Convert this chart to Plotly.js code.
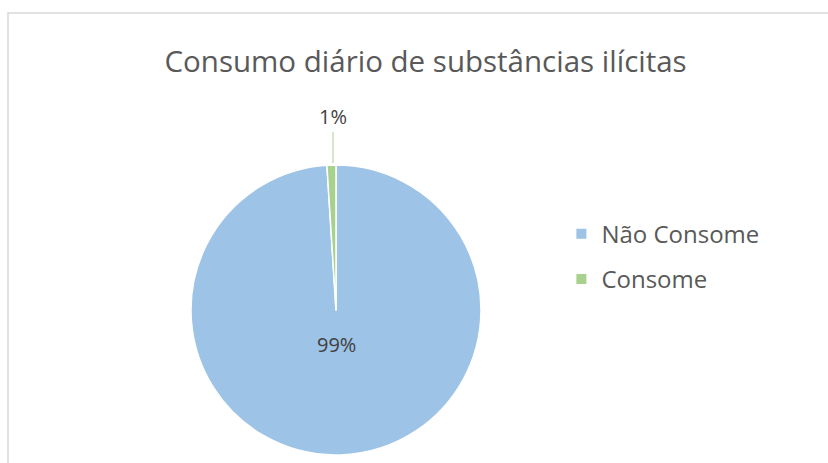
<!DOCTYPE html>
<html><head><meta charset="utf-8">
<script src="https://cdn.plot.ly/plotly-3.0.1.min.js"></script>
<style>html,body{margin:0;padding:0;background:#fff}#chart{width:828px;height:463px}</style>
</head><body><div id="chart"></div>
<script>
const titleText = 'Consumo diário de substâncias ilícitas';
const categories = ['Não Consome', 'Consome'];
const values = [99, 1];
const colors = ['#9DC3E6', '#A9D18E'];

const total = values.reduce((a, b) => a + b, 0);
const pct = values.map(v => Math.round(100 * v / total) + '%');
const FONT = 'Open Sans, sans-serif';

const pie = {
  type: 'pie',
  labels: categories,
  values: values,
  sort: false,
  direction: 'clockwise',
  rotation: 0,
  marker: {colors: colors, line: {color: '#ffffff', width: 1.5}},
  textinfo: 'none',
  hoverinfo: 'label+percent',
  showlegend: false,
  domain: {x: [0.2307, 0.5809], y: [0.0173, 0.6436]}
};

// legend entries, one per category
const legendTraces = categories.map((c, i) => ({
  type: 'scatter', mode: 'markers', x: [null], y: [null],
  name: c, legendgroup: 'g' + i,
  marker: {symbol: 'square', size: 10, color: colors[i]},
  showlegend: true
}));

const layout = {
  width: 828, height: 463,
  margin: {l: 0, r: 0, t: 0, b: 0},
  paper_bgcolor: '#ffffff',
  plot_bgcolor: 'rgba(0,0,0,0)',
  xaxis: {visible: false}, yaxis: {visible: false},
  title: {text: titleText, x: 0.514, xanchor: 'center', y: 0.866, yanchor: 'middle',
          font: {family: FONT, size: 29.5, color: '#595959'}},
  showlegend: true,
  legend: {x: 0.678, y: 0.543, xanchor: 'left', yanchor: 'top',
           font: {family: FONT, size: 24, color: '#595959'},
           traceorder: 'grouped', tracegroupgap: 11, bgcolor: 'rgba(0,0,0,0)'},
  annotations: [
    {xref: 'paper', yref: 'paper', x: 336 / 828, y: 1 - 360 / 463,
     text: pct[0], showarrow: false,
     font: {family: FONT, size: 20, color: '#404040'}},
    {xref: 'paper', yref: 'paper', x: 333 / 828, y: 1 - 163 / 463,
     text: pct[1], showarrow: true, arrowhead: 0, arrowwidth: 1, arrowcolor: colors[1],
     ax: 0, ay: -46, standoff: 0,
     font: {family: FONT, size: 20, color: '#404040'}}
  ],
  shapes: [{type: 'rect', xref: 'paper', yref: 'paper', x0: 8 / 828, x1: 1.02, y0: -0.05, y1: 1 - 13 / 463,
            line: {color: '#D9D9D9', width: 1.5}}]
};

Plotly.newPlot('chart', [pie].concat(legendTraces), layout, {displayModeBar: false, staticPlot: true});
</script></body></html>
